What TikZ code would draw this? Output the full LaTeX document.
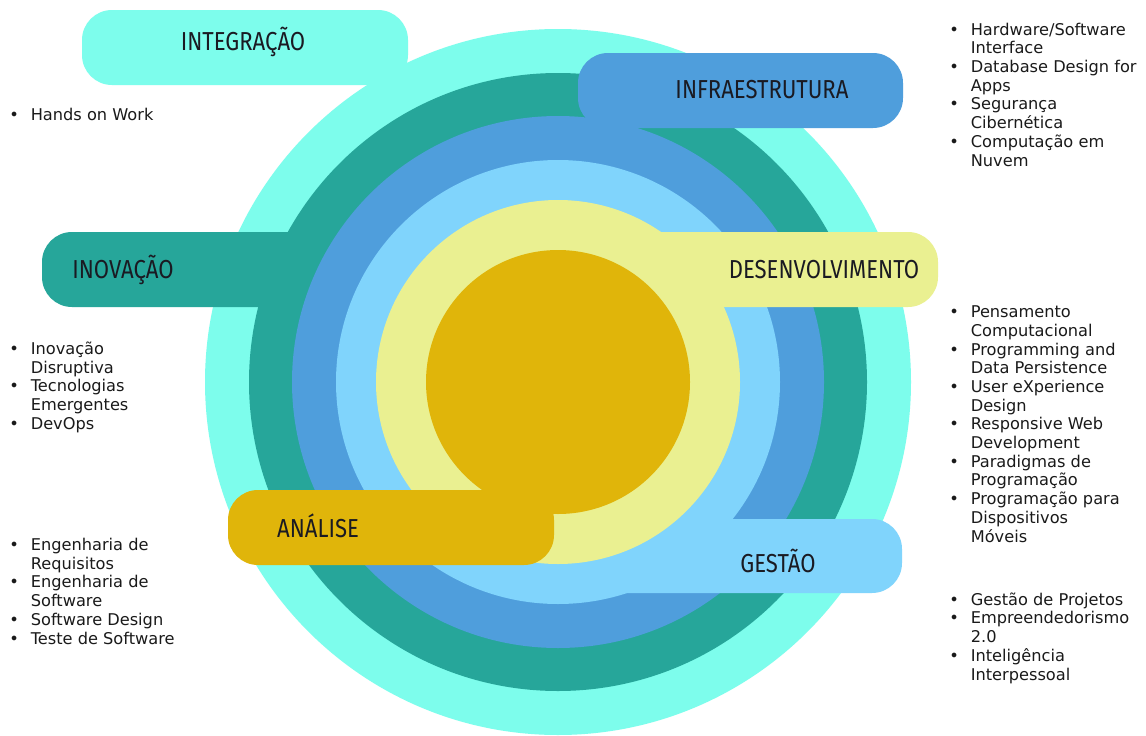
\documentclass[tikz,border=0pt]{standalone}
\usepackage{fontspec}
\setmainfont{DejaVu Sans}
\newfontfamily\bannerfont[FakeStretch=0.85]{Fira Sans}
\definecolor{ringcyan}{HTML}{7DFDEC}
\definecolor{ringteal}{HTML}{26A69A}
\definecolor{ringblue}{HTML}{4F9EDC}
\definecolor{ringlight}{HTML}{80D4FC}
\definecolor{ringyellow}{HTML}{EAF091}
\definecolor{ringgold}{HTML}{E0B50A}
\definecolor{labelink}{HTML}{1A1A22}
\definecolor{listink}{HTML}{1A1A1A}
\newcommand\bitem[1]{\makebox[21.4pt][l]{•}#1}
\newcommand\bcont[1]{\hspace*{21.4pt}#1}
\tikzset{
  banner/.style={rounded corners=30pt},
  bannerlabel/.style={font=\bannerfont\fontsize{26}{30}\selectfont, text=labelink, inner sep=0pt},
  listtext/.style={font=\fontsize{16.2}{18.7}\selectfont, text=listink, inner sep=0pt, anchor=base west}
}
\begin{document}
\begin{tikzpicture}[x=1pt,y=-1pt]
\useasboundingbox (0,0) rectangle (1146,736);
\fill[white] (0,0) rectangle (1146,736);
\coordinate (c) at (558,382);
% outer cyan ring + banner
\fill[ringcyan] (c) circle[radius=353pt];
\fill[ringcyan, banner] (82,10) rectangle (408,85);
% teal
\fill[ringteal] (c) circle[radius=309pt];
\fill[ringteal, banner] (42,232) rectangle (400,307);
% blue
\fill[ringblue] (c) circle[radius=266pt];
\fill[ringblue, banner] (578,53) rectangle (903,128);
% light blue
\fill[ringlight] (c) circle[radius=222pt];
\fill[ringlight, banner] (560,519) rectangle (902,593);
% yellow
\fill[ringyellow] (c) circle[radius=182pt];
\fill[ringyellow, banner] (560,232) rectangle (938,307);
% gold
\fill[ringgold] (c) circle[radius=132pt];
\fill[ringgold, banner] (228,490) rectangle (554,565);

% banner labels
\node[bannerlabel] (integ) at (243,42) {INTEGRAÇÃO};
\node[bannerlabel] (infra) at (762,90) {INFRAESTRUTURA};
\node[bannerlabel] (inov) at (123,270) {INOVAÇÃO};
\node[bannerlabel] (desenv) at (824,270) {DESENVOLVIMENTO};
\node[bannerlabel] (anal) at (318,526) {ANÁLISE};
\node[bannerlabel] (gest) at (778,561) {GESTÃO};

% lists
\node[listtext] (lhands) at (9.2,120.7) {\begin{tabular}[t]{@{}l@{}}\bitem{Hands on Work}\end{tabular}};
\node[listtext] (linov) at (9.2,354.3) {\begin{tabular}[t]{@{}l@{}}
\bitem{Inovação}\\ \bcont{Disruptiva}\\
\bitem{Tecnologias}\\ \bcont{Emergentes}\\
\bitem{DevOps}\end{tabular}};
\node[listtext] (lanal) at (9.2,550.5) {\begin{tabular}[t]{@{}l@{}}
\bitem{Engenharia de}\\ \bcont{Requisitos}\\
\bitem{Engenharia de}\\ \bcont{Software}\\
\bitem{Software Design}\\
\bitem{Teste de Software}\end{tabular}};
\node[listtext] (linfra) at (949.2,35.2) {\begin{tabular}[t]{@{}l@{}}
\bitem{Hardware/Software}\\ \bcont{Interface}\\
\bitem{Database Design for}\\ \bcont{Apps}\\
\bitem{Segurança}\\ \bcont{Cibernética}\\
\bitem{Computação em}\\ \bcont{Nuvem}\end{tabular}};
\node[listtext] (ldesenv) at (949.2,317.6) {\begin{tabular}[t]{@{}l@{}}
\bitem{Pensamento}\\ \bcont{Computacional}\\
\bitem{Programming and}\\ \bcont{Data Persistence}\\
\bitem{User eXperience}\\ \bcont{Design}\\
\bitem{Responsive Web}\\ \bcont{Development}\\
\bitem{Paradigmas de}\\ \bcont{Programação}\\
\bitem{Programação para}\\ \bcont{Dispositivos}\\ \bcont{Móveis}\end{tabular}};
\node[listtext] (lgest) at (949.2,605.2) {\begin{tabular}[t]{@{}l@{}}
\bitem{Gestão de Projetos}\\
\bitem{Empreendedorismo}\\ \bcont{2.0}\\
\bitem{Inteligência}\\ \bcont{Interpessoal}\end{tabular}};
\end{tikzpicture}
\end{document}
